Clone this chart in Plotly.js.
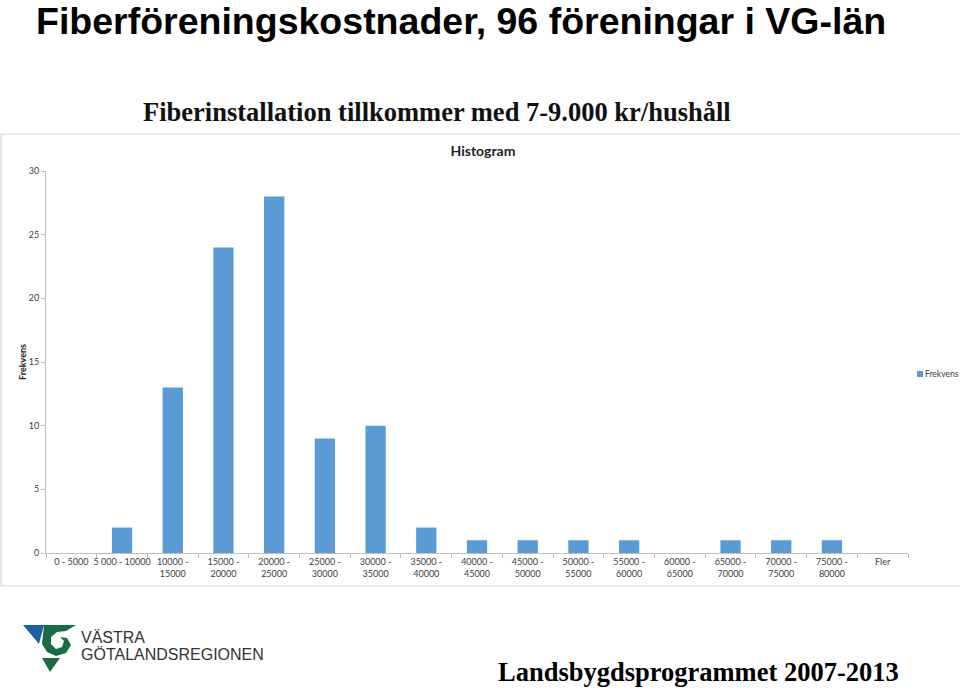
<!DOCTYPE html>
<html>
<head>
<meta charset="utf-8">
<script src="https://cdn.plot.ly/plotly-3.0.1.min.js"></script>
<style>
html,body{margin:0;padding:0;background:#fff;}
#chart{width:960px;height:689px;}
</style>
</head>
<body>
<div id="chart"></div>
<script>
// ---- Data ----
var categories = [
  "0 - 5000", "5 000 - 10000", "10000 -<br>15000", "15000 -<br>20000",
  "20000 -<br>25000", "25000 -<br>30000", "30000 -<br>35000", "35000 -<br>40000",
  "40000 -<br>45000", "45000 -<br>50000", "50000 -<br>55000", "55000 -<br>60000",
  "60000 -<br>65000", "65000 -<br>70000", "70000 -<br>75000", "75000 -<br>80000", "Fler"
];
var frekvens = [0, 2, 13, 24, 28, 9, 10, 2, 1, 1, 1, 1, 0, 1, 1, 1, 0];
var yTicks = [0, 5, 10, 15, 20, 25, 30];
var seriesName = "Frekvens";
var heading = "Fiberföreningskostnader, 96 föreningar i VG-län";
var subtitle = "Fiberinstallation tillkommer med 7-9.000 kr/hushåll";
var chartTitle = "Histogram";
var footer = "Landsbygdsprogrammet 2007-2013";
var logoLine1 = "VÄSTRA";
var logoLine2 = "GÖTALANDSREGIONEN";

// ---- Geometry helpers (pixel -> paper) ----
var W = 960, H = 689;
var L = 46, R = 908, T = 171, B = 553;
function px(x){ return (x - L) / (R - L); }
function py(y){ return (B - y) / (B - T); }
function pathPx(pts){
  return pts.map(function(p,i){ return (i ? "L" : "M") + px(p[0]) + "," + py(p[1]); }).join(" ") + " Z";
}

var barColor = "#5b9bd5";
var axisGray = "#bfbfbf";
var textGray = "#404040";
var uiFont = "Lato, Carlito, sans-serif";

var trace = {
  type: "bar",
  x: categories,
  y: frekvens,
  name: seriesName,
  marker: {color: barColor},
  showlegend: false,
  hoverinfo: "x+y"
};

var shapes = [
  // chart frame
  {type: "rect", xref: "paper", yref: "paper", x0: px(1), x1: px(962), y0: py(586), y1: py(134),
   line: {color: "#d9d9d9", width: 1.2}, fillcolor: "rgba(0,0,0,0)", layer: "below"},
  // legend swatch
  {type: "rect", xref: "paper", yref: "paper", x0: px(917), x1: px(923), y0: py(377), y1: py(371),
   line: {width: 0}, fillcolor: barColor},
  // logo: blue wedge
  {type: "path", xref: "paper", yref: "paper", path: pathPx([[23,625],[44,625],[39,644]]),
   fillcolor: "#1f5fa6", line: {width: 0}},
  // logo: green swoosh
  {type: "path", xref: "paper", yref: "paper",
   path: pathPx([[44,625],[76,625],[66,631],[57,632],[51,637],[51,644],[56,649],[62,647],[64,641],[60,637],[67,638],[71,645],[66,653],[56,656],[47,652],[42,644]]),
   fillcolor: "#1b6b45", line: {width: 0}},
  // logo: green bottom triangle
  {type: "path", xref: "paper", yref: "paper", path: pathPx([[42,658],[60,658],[50,672]]),
   fillcolor: "#1b6b45", line: {width: 0}}
];

var annotations = [
  {text: "<b>" + heading + "</b>", xref: "paper", yref: "paper", x: px(34), y: py(-2),
   xanchor: "left", yanchor: "top", showarrow: false,
   font: {family: "Liberation Sans, Arial, sans-serif", size: 37.5, color: "#000"}},
  {text: "<b>" + subtitle + "</b>", xref: "paper", yref: "paper", x: px(437), y: py(112),
   xanchor: "center", yanchor: "middle", showarrow: false,
   font: {family: "Liberation Serif, Times New Roman, serif", size: 26.5, color: "#111"}},
  {text: seriesName, xref: "paper", yref: "paper", x: px(923), y: py(374),
   xanchor: "left", yanchor: "middle", showarrow: false,
   font: {family: uiFont, size: 8.5, color: textGray}},
  {text: "<b>" + footer + "</b>", xref: "paper", yref: "paper", x: px(698), y: py(672),
   xanchor: "center", yanchor: "middle", showarrow: false,
   font: {family: "Liberation Serif, Times New Roman, serif", size: 26.5, color: "#000"}},
  {text: logoLine1, xref: "paper", yref: "paper", x: px(79), y: py(637),
   xanchor: "left", yanchor: "middle", showarrow: false,
   font: {family: "Liberation Sans, Arial, sans-serif", size: 16, color: "#333"}},
  {text: logoLine2, xref: "paper", yref: "paper", x: px(79), y: py(654),
   xanchor: "left", yanchor: "middle", showarrow: false,
   font: {family: "Liberation Sans, Arial, sans-serif", size: 16, color: "#333"}},
  {text: "<b>" + seriesName + "</b>", xref: "paper", yref: "paper", x: px(22), y: py(362),
   xanchor: "center", yanchor: "middle", textangle: -90, showarrow: false,
   font: {family: uiFont, size: 9, color: "#222"}}
];

var layout = {
  width: W, height: H,
  margin: {l: L, r: W - R, t: T, b: H - B, pad: 0},
  paper_bgcolor: "#fff",
  plot_bgcolor: "#fff",
  bargap: 0.6,
  showlegend: false,
  title: {
    text: "<b>" + chartTitle + "</b>",
    x: 483 / W, xref: "container", xanchor: "center",
    y: 1 - 151 / H, yref: "container", yanchor: "middle",
    font: {family: uiFont, size: 14, color: "#222"}
  },
  xaxis: {
    type: "category",
    tickson: "boundaries",
    ticks: "outside", ticklen: 4, tickcolor: axisGray,
    showline: true, linecolor: axisGray, linewidth: 1,
    showgrid: false, zeroline: false,
    tickangle: 0,
    tickfont: {family: uiFont, size: 9, color: textGray},
    fixedrange: true
  },
  yaxis: {
    range: [0, 30],
    tickvals: yTicks,
    ticktext: yTicks.map(String),
    ticks: "outside", ticklen: 4, tickcolor: axisGray,
    showline: true, linecolor: axisGray, linewidth: 1,
    showgrid: false, zeroline: false,
    tickfont: {family: uiFont, size: 9, color: textGray},
    fixedrange: true
  },
  shapes: shapes,
  annotations: annotations
};

Plotly.newPlot("chart", [trace], layout, {displayModeBar: false, staticPlot: true});
</script>
</body>
</html>
